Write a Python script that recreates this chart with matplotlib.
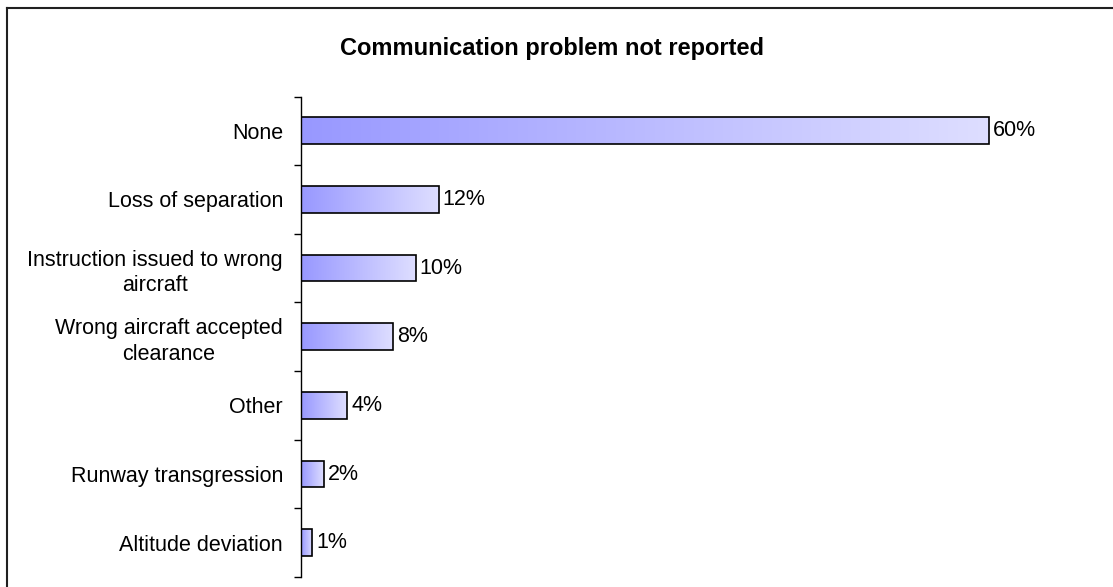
import numpy as np
import matplotlib
matplotlib.use("Agg")
import matplotlib.pyplot as plt
from matplotlib.colors import LinearSegmentedColormap
from matplotlib.lines import Line2D

plt.rcParams['font.family'] = ['Liberation Sans', 'DejaVu Sans']

# Data
title = "Communication problem not reported"
categories = ["None", "Loss of separation", "Instruction issued to wrong\naircraft",
              "Wrong aircraft accepted\nclearance", "Other", "Runway transgression",
              "Altitude deviation"]
values = [60, 12, 10, 8, 4, 2, 1]
value_labels = ["60%", "12%", "10%", "8%", "4%", "2%", "1%"]

W, H = 1113, 587
fig = plt.figure(figsize=(W / 100, H / 100), dpi=100)
ax = fig.add_axes([301 / W, 10 / H, 768 / W, 480.5 / H])

grad = LinearSegmentedColormap.from_list("bar_grad", ["#9898ff", "#dedeff"])
gradient = np.linspace(0, 1, 256).reshape(1, -1)

y = np.arange(len(categories))
bars = ax.barh(y, values, height=0.39, facecolor="none", edgecolor="black",
               linewidth=1.2, zorder=3)

# fill every bar with its own left-to-right gradient
for b in bars:
    x0, y0 = b.get_x(), b.get_y()
    w, h = b.get_width(), b.get_height()
    im = ax.imshow(gradient, cmap=grad, aspect="auto", extent=[x0, x0 + w, y0 + h, y0],
                   zorder=2, interpolation="bilinear")
    im.set_clip_path(b)

for yi, v, lab in zip(y, values, value_labels):
    ax.annotate(lab, (v, yi), xytext=(3, 0), textcoords="offset points",
                ha="left", va="center", fontsize=15.5)

ax.set_xlim(0, 67)
ax.set_ylim(len(categories) - 0.5, -0.5)

ax.set_yticks(y)
ax.set_yticklabels(categories, fontsize=15.5)
for t in ax.get_yticklabels():
    t.set_multialignment("center")
    t.set_linespacing(1.3)
ax.set_yticks(np.arange(-0.5, len(categories)), minor=True)
ax.tick_params(axis="y", which="major", length=0, pad=13)
ax.tick_params(axis="y", which="minor", length=5, width=1, direction="out")
ax.set_xticks([])

for s in ["top", "right", "bottom"]:
    ax.spines[s].set_visible(False)
ax.spines["left"].set_linewidth(1)

fig.text(552 / W, 1 - 48 / H, title, ha="center", va="center",
         fontsize=17, fontweight="bold")

# chart frame (left and top edges)
fig.add_artist(Line2D([6.5 / W, 6.5 / W], [0, 1 - 7.5 / H], transform=fig.transFigure,
                      color="#202020", linewidth=1.5))
fig.add_artist(Line2D([6.5 / W, 1], [1 - 7.5 / H, 1 - 7.5 / H], transform=fig.transFigure,
                      color="#202020", linewidth=1.5))

fig.savefig("out.png", dpi=100)
